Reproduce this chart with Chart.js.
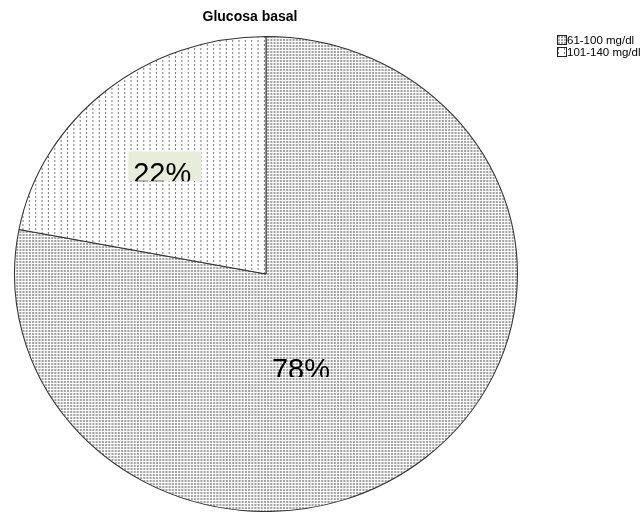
<!DOCTYPE html>
<html>
<head>
<meta charset="utf-8">
<script src="https://cdn.jsdelivr.net/npm/chart.js@4/dist/chart.umd.min.js"></script>
<style>
  html, body { margin: 0; padding: 0; background: #fff; overflow: hidden; }
  #wrap { width: 642px; height: 512px; position: relative; }
</style>
</head>
<body>
<div id="wrap"><canvas id="Piechart"></canvas></div>
<script>
const categories = ["61-100 mg/dl", "101-140 mg/dl"];
const percentages = [78, 22];
const pctLabels = percentages.map(v => v + "%");
const chartTitle = "Glucosa basal";

// the pie is a little wider than tall
const STRETCH = 252 / 238;
// label box centres, in radii from the middle of the pie
const labelSpots = [[0.149, 0.37], [-0.403, -0.454]];
const labelBg = ["rgba(0,0,0,0)", "#e6eedb"];

const makePattern = (w, h, dots, colour) => {
  const tile = document.createElement("canvas");
  tile.width = w;
  tile.height = h;
  const t = tile.getContext("2d");
  t.fillStyle = "#fff";
  t.fillRect(0, 0, w, h);
  t.fillStyle = colour;
  dots.forEach(([x, y]) => t.fillRect(x, y, 1, 1));
  return t.createPattern(tile, "repeat");
};

document.addEventListener("DOMContentLoaded", () => {
  const dense = makePattern(3, 3, [[0, 0], [1, 0], [0, 1], [1, 1]], "#a6a6a6");
  const sparse = makePattern(6, 4, [[0, 0], [0, 1]], "#808080");
  const fills = [dense, sparse];

  const ellipse = {
    id: "ellipse",
    beforeDatasetsDraw(chart) {
      const arc = chart.getDatasetMeta(0).data[0];
      const ctx = chart.ctx;
      ctx.save();
      ctx.translate(arc.x, arc.y);
      ctx.scale(STRETCH, 1);
      ctx.translate(-arc.x, -arc.y);
    },
    afterDatasetsDraw(chart) {
      const ctx = chart.ctx;
      ctx.restore();
      // percentage boxes, cut off at the bottom edge
      chart.getDatasetMeta(0).data.forEach((arc, i) => {
        const r = arc.outerRadius;
        const cx = arc.x + labelSpots[i][0] * r * STRETCH;
        const cy = arc.y + labelSpots[i][1] * r;
        const w = 73, h = 30;
        const x = cx - w / 2, y = cy - h / 2;
        ctx.save();
        ctx.beginPath();
        ctx.rect(x, y, w, h);
        ctx.clip();
        ctx.fillStyle = labelBg[i];
        ctx.fillRect(x, y, w, h);
        ctx.fillStyle = "#000";
        ctx.font = '29px "Liberation Sans", Arial, sans-serif';
        ctx.textAlign = "left";
        ctx.textBaseline = "alphabetic";
        ctx.fillText(pctLabels[i], x + 5, y + 32);
        ctx.restore();
      });
    }
  };

  const titleAndKey = {
    id: "titleAndKey",
    afterDraw(chart) {
      const ctx = chart.ctx;
      ctx.save();
      ctx.fillStyle = "#000";
      ctx.font = 'bold 14px "Liberation Sans", Arial, sans-serif';
      ctx.textAlign = "center";
      ctx.textBaseline = "alphabetic";
      ctx.fillText(chartTitle, 250, 21);

      ctx.font = '11.5px "Liberation Sans", Arial, sans-serif';
      ctx.textAlign = "left";
      categories.forEach((name, i) => {
        const y = 35 + i * 12;
        ctx.fillStyle = fills[i];
        ctx.fillRect(557, y, 9, 9);
        ctx.strokeStyle = "#222";
        ctx.lineWidth = 1;
        ctx.strokeRect(557.5, y + 0.5, 9, 9);
        ctx.fillStyle = "#000";
        ctx.fillText(name, 567, y + 9);
      });
      ctx.restore();
    }
  };

  new Chart(document.getElementById("Piechart"), {
    type: "pie",
    data: {
      labels: categories,
      datasets: [
        {
          data: percentages,
          backgroundColor: fills,
          borderColor: "#333",
          borderWidth: 1,
          hoverOffset: 0
        }
      ]
    },
    options: {
      responsive: true,
      maintainAspectRatio: false,
      animation: false,
      events: [],
      layout: { padding: { top: 36, left: 28, right: 138, bottom: 0 } },
      plugins: {
        legend: { display: false },
        title: { display: false },
        tooltip: { enabled: false }
      }
    },
    plugins: [ellipse, titleAndKey]
  });
});
</script>
</body>
</html>
